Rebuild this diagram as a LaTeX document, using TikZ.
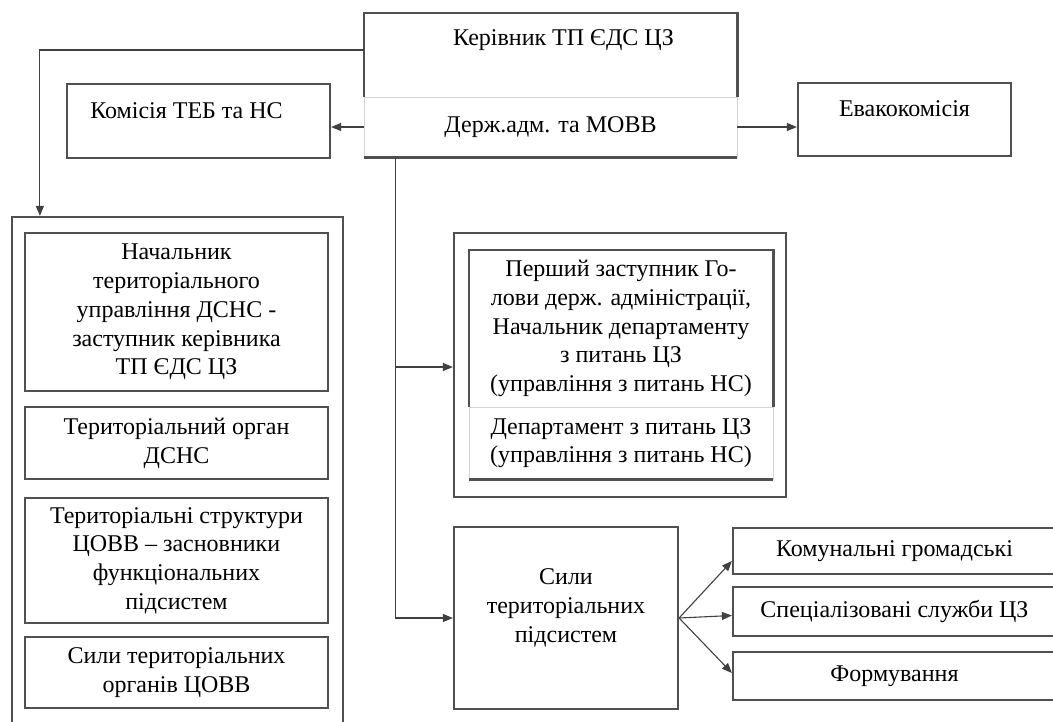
\documentclass[tikz,border=0pt]{standalone}
\usepackage{fontspec}
\setmainfont{Liberation Serif}
\newfontfamily\boxfont{Liberation Serif}
\usetikzlibrary{arrows.meta, calc}
\definecolor{boxgray}{HTML}{505050}
\definecolor{softgray}{HTML}{D4D4D4}
\definecolor{linegray}{HTML}{404040}

\begin{document}
\begin{tikzpicture}[x=1pt, y=-1pt,
    box/.style={draw=boxgray, line width=2.2pt, inner sep=0pt, align=center,
      font=\boxfont\fontsize{24}{28.7}\selectfont},
    softbox/.style={box, draw=softgray, line width=0.8pt},
    edge/.style={draw=boxgray, line width=2.2pt},
    lbl/.style={inner sep=0pt, align=center, font=\boxfont\fontsize{24}{28.7}\selectfont},
    conn/.style={draw=linegray, line width=1.1pt, -{Triangle[length=10pt,width=8pt]}}]
        \useasboundingbox (0,0) rectangle (1053,721);
        \clip (0,0) rectangle (1053,721);
        % top block
        \node[softbox, minimum width=373pt, minimum height=84pt] (kerivnyk) at (550.5,55) {};
        \node[lbl] (kerivnyk-t) at ([shift={(13pt,15pt)}]kerivnyk.center) {Керівник ТП ЄДС ЦЗ};
        \node[softbox, minimum width=373pt, minimum height=60pt] (derzh) at (550.5,127) {Держ.адм. та МОВВ};
        \draw[edge] (kerivnyk.south west) |- (kerivnyk.north east) -- (kerivnyk.south east);
        \draw[edge] (derzh.south west) -- (derzh.south east);
        \node[box, minimum width=263pt, minimum height=74pt] (komisia) at (198.5,121) {};
        \node[lbl] (komisia-t) at ([shift={(-12pt,10pt)}]komisia.center) {Комісія ТЕБ та НС};
        \node[box, minimum width=213pt, minimum height=73pt] (evako) at (904.5,119.5) {};
        \node[lbl] (evako-t) at ([yshift=11pt]evako.center) {Евакокомісія};
        % left column
        \node[box, minimum width=331pt, minimum height=523pt] (leftframe) at (177.5,478.5) {};
        \node[box, minimum width=303pt, minimum height=158pt] (nach) at (176.5,312)
          {Начальник\\територіального\\управління ДСНС -\\заступник керівника\\ТП ЄДС ЦЗ};
        \node[box, minimum width=303pt, minimum height=72pt] (organ) at (176.5,443)
          {Територіальний орган\\ДСНС};
        \node[box, minimum width=303pt, minimum height=125pt] (struct) at (176.5,560.5)
          {Територіальні структури\\ЦОВВ – засновники\\функціональних\\підсистем};
        \node[box, minimum width=303pt, minimum height=71pt] (sylyorg) at (176.5,672.5)
          {Сили територіальних\\органів ЦОВВ};
        % middle block
        \node[box, minimum width=332pt, minimum height=264pt] (pframe) at (620,365) {};
        \node[softbox, minimum width=304pt, minimum height=157pt] (pershyi) at (621,328.5)
          {Перший заступник Го-\\лови держ. адміністрації,\\Начальник департаменту\\з питань ЦЗ\\(управління з питань НС)};
        \node[softbox, minimum width=304pt, minimum height=72pt] (dept) at (621,443)
          {Департамент з питань ЦЗ\\(управління з питань НС)};
        \draw[edge] (pershyi.south west) |- (pershyi.north east) -- (pershyi.south east);
        \draw[edge] (dept.south west) -- (dept.south east);
        \node[box, minimum width=224pt, minimum height=182pt] (syly) at (566,618) {};
        \node[lbl] (syly-t) at ([yshift=10pt]syly.center) {Сили\\територіальних\\підсистем};
        % right column
        \node[box, minimum width=323pt, minimum height=46pt] (komun) at (894.5,551) {Комунальні громадські};
        \node[box, minimum width=323pt, minimum height=49pt] (spec) at (894.5,611.5) {Спеціалізовані служби ЦЗ};
        \node[box, minimum width=323pt, minimum height=48pt] (form) at (894.5,676) {Формування};
        % connectors
        \coordinate (trunk) at ([xshift=32pt]derzh.south west);
        \draw[conn] ([yshift=5pt]kerivnyk.west) -| ([xshift=29pt]leftframe.north west);
        \draw[conn] (derzh.west) -- (derzh.west -| komisia.east);
        \draw[conn] (derzh.east) -- (derzh.east -| evako.west);
        \draw[conn] (trunk) |- ([yshift=-2pt]pframe.west);
        \draw[conn] (trunk) |- (syly.west);
        \draw[conn] (syly.east) -- ([yshift=-10pt]komun.west);
        \draw[conn] (syly.east) -- ([yshift=-4pt]spec.west);
        \draw[conn] (syly.east) -- ([yshift=3pt]form.west);
    \end{tikzpicture}
\end{document}
